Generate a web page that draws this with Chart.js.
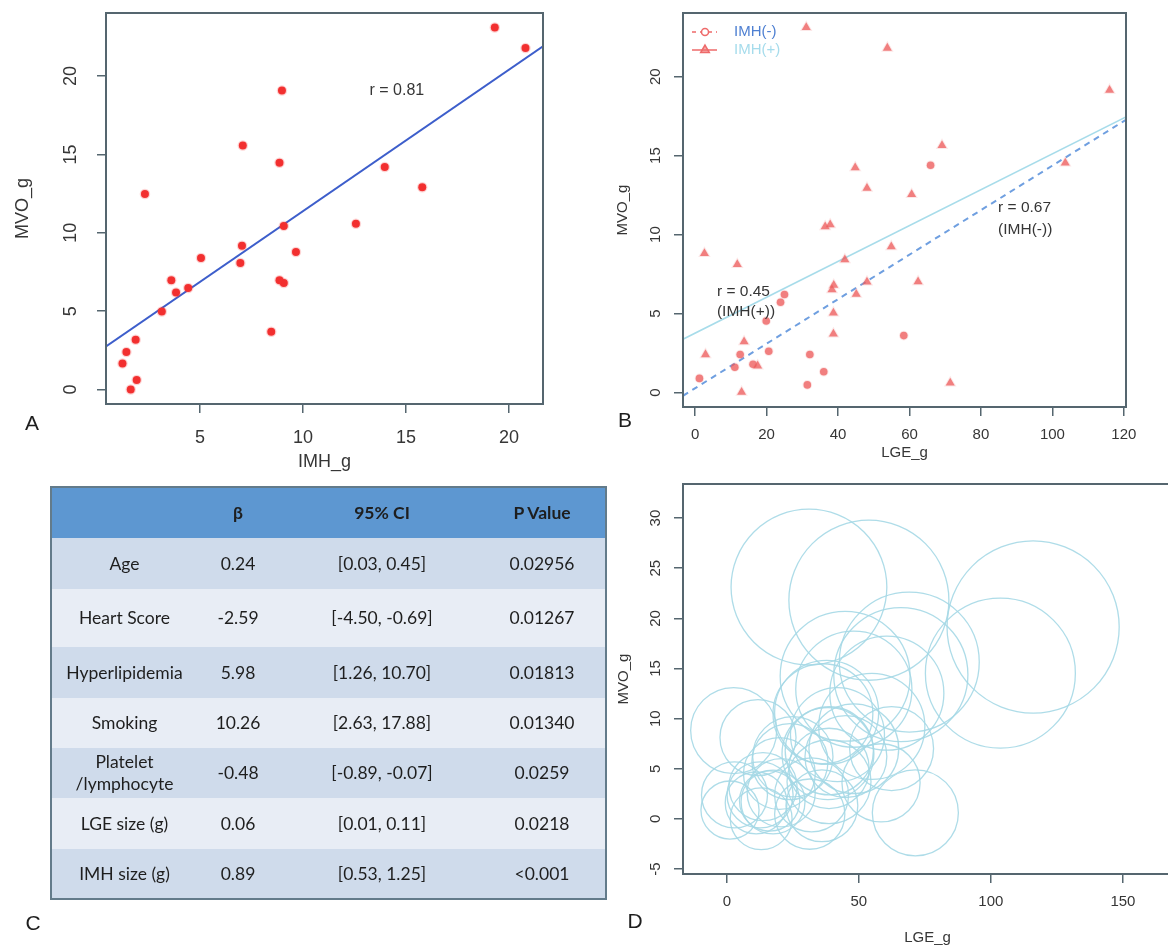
<!DOCTYPE html>
<html>
<head>
<meta charset="utf-8">
<script src="https://cdn.jsdelivr.net/npm/chart.js@4.4.1/dist/chart.umd.min.js"></script>
<style>
html,body{margin:0;padding:0;background:#ffffff;}
body{width:1168px;height:947px;position:relative;overflow:hidden;font-family:"Liberation Sans",Arial,sans-serif;}
canvas{position:absolute;}
.lab{position:absolute;font-size:21px;color:#1e1e1e;line-height:1;transform:translate(-50%,-50%);}
#tbl{position:absolute;left:50px;top:486px;width:555px;border-collapse:collapse;table-layout:fixed;
  font-family:Lato,"Open Sans",sans-serif;font-size:17.5px;color:#1e1e1e;border:2px solid #637b8a;}
#tbl th,#tbl td{text-align:center;vertical-align:middle;padding:0;white-space:pre-line;line-height:1.25;}
#tbl th{background:#5d97d1;height:50px;font-weight:bold;}
#tbl th:nth-child(4){padding-right:6px;}
#tbl td:nth-child(4){padding-right:6px;}
#tbl tbody tr:nth-child(odd) td{background:#cfdbeb;}
#tbl tbody tr:nth-child(even) td{background:#e8edf5;}
#tbl tbody tr{height:51px;}
#tbl tbody tr:nth-child(2){height:58px;}
#tbl tbody tr:nth-child(4),#tbl tbody tr:nth-child(5),#tbl tbody tr:nth-child(7){height:50px;}
</style>
</head>
<body>
<canvas id="cA" width="560" height="475" style="left:0;top:0"></canvas>
<canvas id="cB" width="588" height="475" style="left:580px;top:0"></canvas>
<canvas id="cD" width="572" height="477" style="left:600px;top:470px"></canvas>
<table id="tbl">
  <colgroup><col style="width:146px"><col style="width:82px"><col style="width:206px"><col style="width:121px"></colgroup>
  <thead><tr id="thead"></tr></thead>
  <tbody id="tbody"></tbody>
</table>
<div class="lab" style="left:32px;top:422px">A</div>
<div class="lab" style="left:625px;top:419px">B</div>
<div class="lab" style="left:33px;top:922px">C</div>
<div class="lab" style="left:635px;top:920px">D</div>

<script>
// ---------------- DATA ----------------
// Panel A: IMH(+) patients, IMH size vs MVO size
const imhA = [19.31, 20.80, 8.98, 7.08, 8.86, 13.97, 15.79, 2.33, 12.57, 9.07, 7.04, 9.66, 5.05,
              6.96, 3.61, 8.86, 9.07, 4.43, 3.84, 3.15, 8.46, 1.88, 1.43, 1.24, 1.93, 1.64];
const mvoA = [23.09, 21.78, 19.07, 15.57, 14.47, 14.19, 12.90, 12.48, 10.57, 10.44, 9.17, 8.77, 8.39,
              8.07, 6.97, 6.97, 6.80, 6.48, 6.19, 4.98, 3.69, 3.18, 2.39, 1.67, 0.61, 0.00];
const fitA_x = [0.44, 21.65];
const fitA_y = [2.75, 21.90];

// Panel B: LGE size vs MVO size, by IMH group
const lgePos = [31.1, 53.8, 116.0, 69.1, 103.6, 44.8, 48.1, 60.6, 36.4, 37.8, 2.6, 54.9, 41.9,
                11.8, 48.1, 62.4, 38.8, 38.3, 45.1, 38.7, 38.7, 13.7, 2.9, 17.5, 71.4, 13.0];
const mvoPos = [23.12, 21.81, 19.14, 15.64, 14.54, 14.23, 12.94, 12.54, 10.50, 10.62, 8.81, 9.23, 8.41,
                8.11, 7.00, 7.02, 6.79, 6.51, 6.22, 5.04, 3.71, 3.22, 2.40, 1.69, 0.61, 0.02];
const lgeNeg = [65.9, 25.0, 23.9, 19.9, 58.4, 12.6, 20.6, 32.1, 16.2, 11.1, 36.0, 1.2, 31.4];
const mvoNeg = [14.39, 6.20, 5.71, 4.53, 3.60, 2.40, 2.61, 2.40, 1.79, 1.60, 1.31, 0.89, 0.48];
const fitPos_x = [-3.4, 120.6];
const fitPos_y = [3.37, 17.45];
const fitNeg_x = [-3.4, 120.6];
const fitNeg_y = [-0.21, 17.27];
const groupLabels = ['IMH(-)', 'IMH(+)'];

// Panel D: circle sizes (radius, in LGE_g units), same order as the B arrays
const circlePos = [29.5, 30.3, 32.6, 26.5, 28.4, 24.6, 22.0, 21.6, 18.9, 19.7, 16.3, 20.1, 17.8,
                   14.4, 17.0, 15.9, 16.7, 17.4, 15.5, 15.2, 15.9, 12.9, 12.5, 12.1, 16.3, 11.7];
const circleNeg = [25.4, 15.2, 14.4, 13.6, 14.8, 12.5, 12.9, 14.0, 11.4, 11.7, 13.6, 11.0, 13.3];

// Tick values
const ticksA_x = [5, 10, 15, 20];
const ticksA_y = [0, 5, 10, 15, 20];
const ticksB_x = [0, 20, 40, 60, 80, 100, 120];
const ticksB_y = [0, 5, 10, 15, 20];
const ticksD_x = [0, 50, 100, 150];
const ticksD_y = [-5, 0, 5, 10, 15, 20, 25, 30];

// Panel C table
const tableHeader = ['', 'β', '95% CI', 'P Value'];
const rowNames = ['Age', 'Heart Score', 'Hyperlipidemia', 'Smoking', 'Platelet\n/lymphocyte', 'LGE size (g)', 'IMH size (g)'];
const betas = ['0.24', '-2.59', '5.98', '10.26', '-0.48', '0.06', '0.89'];
const cis = ['[0.03, 0.45]', '[-4.50, -0.69]', '[1.26, 10.70]', '[2.63, 17.88]', '[-0.89,  -0.07]', '[0.01,  0.11]', '[0.53, 1.25]'];
const pvals = ['0.02956', '0.01267', '0.01813', '0.01340', '0.0259', '0.0218', '<0.001'];

// ---------------- TABLE ----------------
const thead = document.getElementById('thead');
tableHeader.forEach(h => { const th = document.createElement('th'); th.textContent = h; thead.appendChild(th); });
const tbody = document.getElementById('tbody');
rowNames.forEach((n, i) => {
  const tr = document.createElement('tr');
  [n, betas[i], cis[i], pvals[i]].forEach(v => { const td = document.createElement('td'); td.textContent = v; tr.appendChild(td); });
  tbody.appendChild(tr);
});

// ---------------- CHART HELPERS ----------------
const AXIS = '#55666f';
const TXT = '#363636';
const FONT = '"Liberation Sans", Arial, Helvetica, sans-serif';
const pts = (xs, ys) => xs.map((x, i) => ({x, y: ys[i]}));

function scale(axis, o) {
  return {
    type: 'linear', min: o.min, max: o.max,
    afterBuildTicks: s => { s.ticks = o.ticks.map(v => ({value: v})); },
    afterFit: s => {
      if (axis === 'y') s.width = o.size; else s.height = o.size;
      s.paddingTop = 0; s.paddingBottom = 0; s.paddingLeft = 0; s.paddingRight = 0;
    },
    grid: {display: true, drawOnChartArea: false, drawTicks: true, tickLength: 9, color: AXIS, lineWidth: 1.5},
    border: {display: false},
    ticks: {
      color: TXT, font: {family: FONT, size: o.font}, padding: o.tickPad, autoSkip: false,
      minRotation: axis === 'y' ? 90 : 0, maxRotation: axis === 'y' ? 90 : 0,
      crossAlign: axis === 'y' ? 'center' : 'near',
      callback: v => String(v)
    },
    title: {
      display: true, text: o.title, color: TXT, font: {family: FONT, size: o.font},
      padding: axis === 'y' ? {top: o.titlePad, bottom: 0} : {top: 0, bottom: o.titlePad}
    }
  };
}

const boxPlugin = {
  id: 'rbox',
  afterDatasetsDraw(chart) {
    const {ctx, chartArea: a} = chart;
    ctx.save();
    ctx.strokeStyle = AXIS; ctx.lineWidth = 2;
    ctx.strokeRect(a.left, a.top, a.right - a.left, a.bottom - a.top);
    ctx.restore();
  }
};

const notesPlugin = {
  id: 'notes',
  afterDatasetsDraw(chart, args, opts) {
    if (!opts.items) return;
    const {ctx, scales} = chart;
    ctx.save();
    ctx.fillStyle = TXT;
    ctx.font = opts.size + 'px ' + FONT;
    ctx.textBaseline = 'middle';
    ctx.textAlign = 'left';
    opts.items.forEach(it => ctx.fillText(it.text, scales.x.getPixelForValue(it.x), scales.y.getPixelForValue(it.y)));
    ctx.restore();
  }
};

const legendPlugin = {
  id: 'rlegend',
  afterDraw(chart, args, opts) {
    if (!opts.items) return;
    const {ctx, chartArea: a} = chart;
    opts.items.forEach((it, i) => {
      const y = a.top + 19 + i * 18;
      const x0 = a.left + 9, x1 = a.left + 34, xs = a.left + 22;
      ctx.save();
      ctx.strokeStyle = it.lineColor; ctx.lineWidth = 1.5;
      ctx.setLineDash(it.dash);
      ctx.beginPath(); ctx.moveTo(x0, y); ctx.lineTo(x1, y); ctx.stroke();
      ctx.setLineDash([]);
      ctx.fillStyle = it.fill; ctx.strokeStyle = it.lineColor; ctx.lineWidth = 1.5;
      Chart.helpers.drawPoint(ctx, {pointStyle: it.style, radius: it.r, borderWidth: 1.5, rotation: 0}, xs, y);
      ctx.fillStyle = it.textColor;
      ctx.font = '15px ' + FONT;
      ctx.textBaseline = 'middle'; ctx.textAlign = 'left';
      ctx.fillText(it.text, a.left + 51, y);
      ctx.restore();
    });
  }
};

Chart.register(boxPlugin, notesPlugin, legendPlugin);

const common = {
  responsive: false, animation: false, events: [],
  plugins: {legend: {display: false}, tooltip: {enabled: false}}
};

// ---------------- PANEL A ----------------
new Chart(document.getElementById('cA'), {
  type: 'scatter',
  data: {
    datasets: [
      {data: pts(imhA, mvoA), pointRadius: 4, backgroundColor: '#f22f2f', borderColor: 'rgba(245,60,60,0.22)', borderWidth: 2.5},
      {type: 'line', data: pts(fitA_x, fitA_y), showLine: true, pointRadius: 0, borderColor: '#3d5ecb', borderWidth: 2}
    ]
  },
  options: Object.assign({}, common, {
    layout: {padding: {left: 0, right: 17, top: 13, bottom: 0}},
    scales: {
      x: scale('x', {min: 0.44, max: 21.65, ticks: ticksA_x, size: 71, font: 18, tickPad: 14, title: 'IMH_g', titlePad: 2}),
      y: scale('y', {min: -0.92, max: 24.02, ticks: ticksA_y, size: 106, font: 18, tickPad: 16, title: 'MVO_g', titlePad: 12})
    },
    plugins: Object.assign({}, common.plugins, {
      notes: {size: 16, items: [{text: 'r = 0.81', x: 13.23, y: 19.1}]}
    })
  })
});

// ---------------- PANEL B ----------------
const ptColor = 'rgba(236,84,84,0.75)';
new Chart(document.getElementById('cB'), {
  type: 'scatter',
  data: {
    datasets: [
      {label: groupLabels[0], data: pts(lgeNeg, mvoNeg), pointStyle: 'circle', pointRadius: 3.8, backgroundColor: ptColor, borderColor: 'rgba(240,120,120,0.18)', borderWidth: 2},
      {label: groupLabels[1], data: pts(lgePos, mvoPos), pointStyle: 'triangle', pointRadius: 5.2, backgroundColor: ptColor, borderColor: 'rgba(240,120,120,0.18)', borderWidth: 2},
      {type: 'line', data: pts(fitPos_x, fitPos_y), showLine: true, pointRadius: 0, borderColor: '#a7dcea', borderWidth: 1.6},
      {type: 'line', data: pts(fitNeg_x, fitNeg_y), showLine: true, pointRadius: 0, borderColor: '#6f9fe0', borderWidth: 2, borderDash: [6, 5]}
    ]
  },
  options: Object.assign({}, common, {
    layout: {padding: {left: 0, right: 42, top: 13, bottom: 0}},
    scales: {
      x: scale('x', {min: -3.4, max: 120.6, ticks: ticksB_x, size: 68, font: 15, tickPad: 10, title: 'LGE_g', titlePad: 13}),
      y: scale('y', {min: -0.92, max: 24.03, ticks: ticksB_y, size: 103, font: 15, tickPad: 10, title: 'MVO_g', titlePad: 34})
    },
    plugins: Object.assign({}, common.plugins, {
      notes: {size: 15.5, items: [
        {text: 'r = 0.67', x: 84.8, y: 11.7}, {text: '(IMH(-))', x: 84.8, y: 10.33},
        {text: 'r = 0.45', x: 6.1, y: 6.39}, {text: '(IMH(+))', x: 6.1, y: 5.1}
      ]},
      rlegend: {items: [
        {text: groupLabels[0], lineColor: '#ee6a6a', dash: [4, 4], style: 'circle', r: 3.5, fill: '#ffffff', textColor: '#4f80d2'},
        {text: groupLabels[1], lineColor: '#ee6a6a', dash: [], style: 'triangle', r: 5, fill: 'rgba(238,110,110,0.6)', textColor: '#a6dcec'}
      ]}
    })
  })
});

// ---------------- PANEL D ----------------
// circle radius given in x-axis (LGE_g) units, converted to pixels through the x scale
const radiusPx = (sizes) => (ctx) => {
  const s = ctx.chart.scales.x;
  const r = Math.abs(s.getPixelForValue(sizes[ctx.dataIndex]) - s.getPixelForValue(0));
  return isFinite(r) ? r : 0;
};
const circleColor = 'rgba(165,216,230,0.9)';
new Chart(document.getElementById('cD'), {
  type: 'scatter',
  data: {
    datasets: [
      {data: pts(lgePos, mvoPos), pointRadius: radiusPx(circlePos), pointBackgroundColor: 'rgba(0,0,0,0)', pointBorderColor: circleColor, pointBorderWidth: 1.3},
      {data: pts(lgeNeg, mvoNeg), pointRadius: radiusPx(circleNeg), pointBackgroundColor: 'rgba(0,0,0,0)', pointBorderColor: circleColor, pointBorderWidth: 1.3}
    ]
  },
  options: Object.assign({}, common, {
    layout: {padding: {left: 0, right: 0, top: 14, bottom: 0}},
    scales: {
      x: scale('x', {min: -16.6, max: 168.6, ticks: ticksD_x, size: 73, font: 15, tickPad: 10, title: 'LGE_g', titlePad: 0}),
      y: scale('y', {min: -5.49, max: 33.4, ticks: ticksD_y, size: 83, font: 15, tickPad: 10, title: 'MVO_g', titlePad: 15})
    }
  })
});
</script>
</body>
</html>
